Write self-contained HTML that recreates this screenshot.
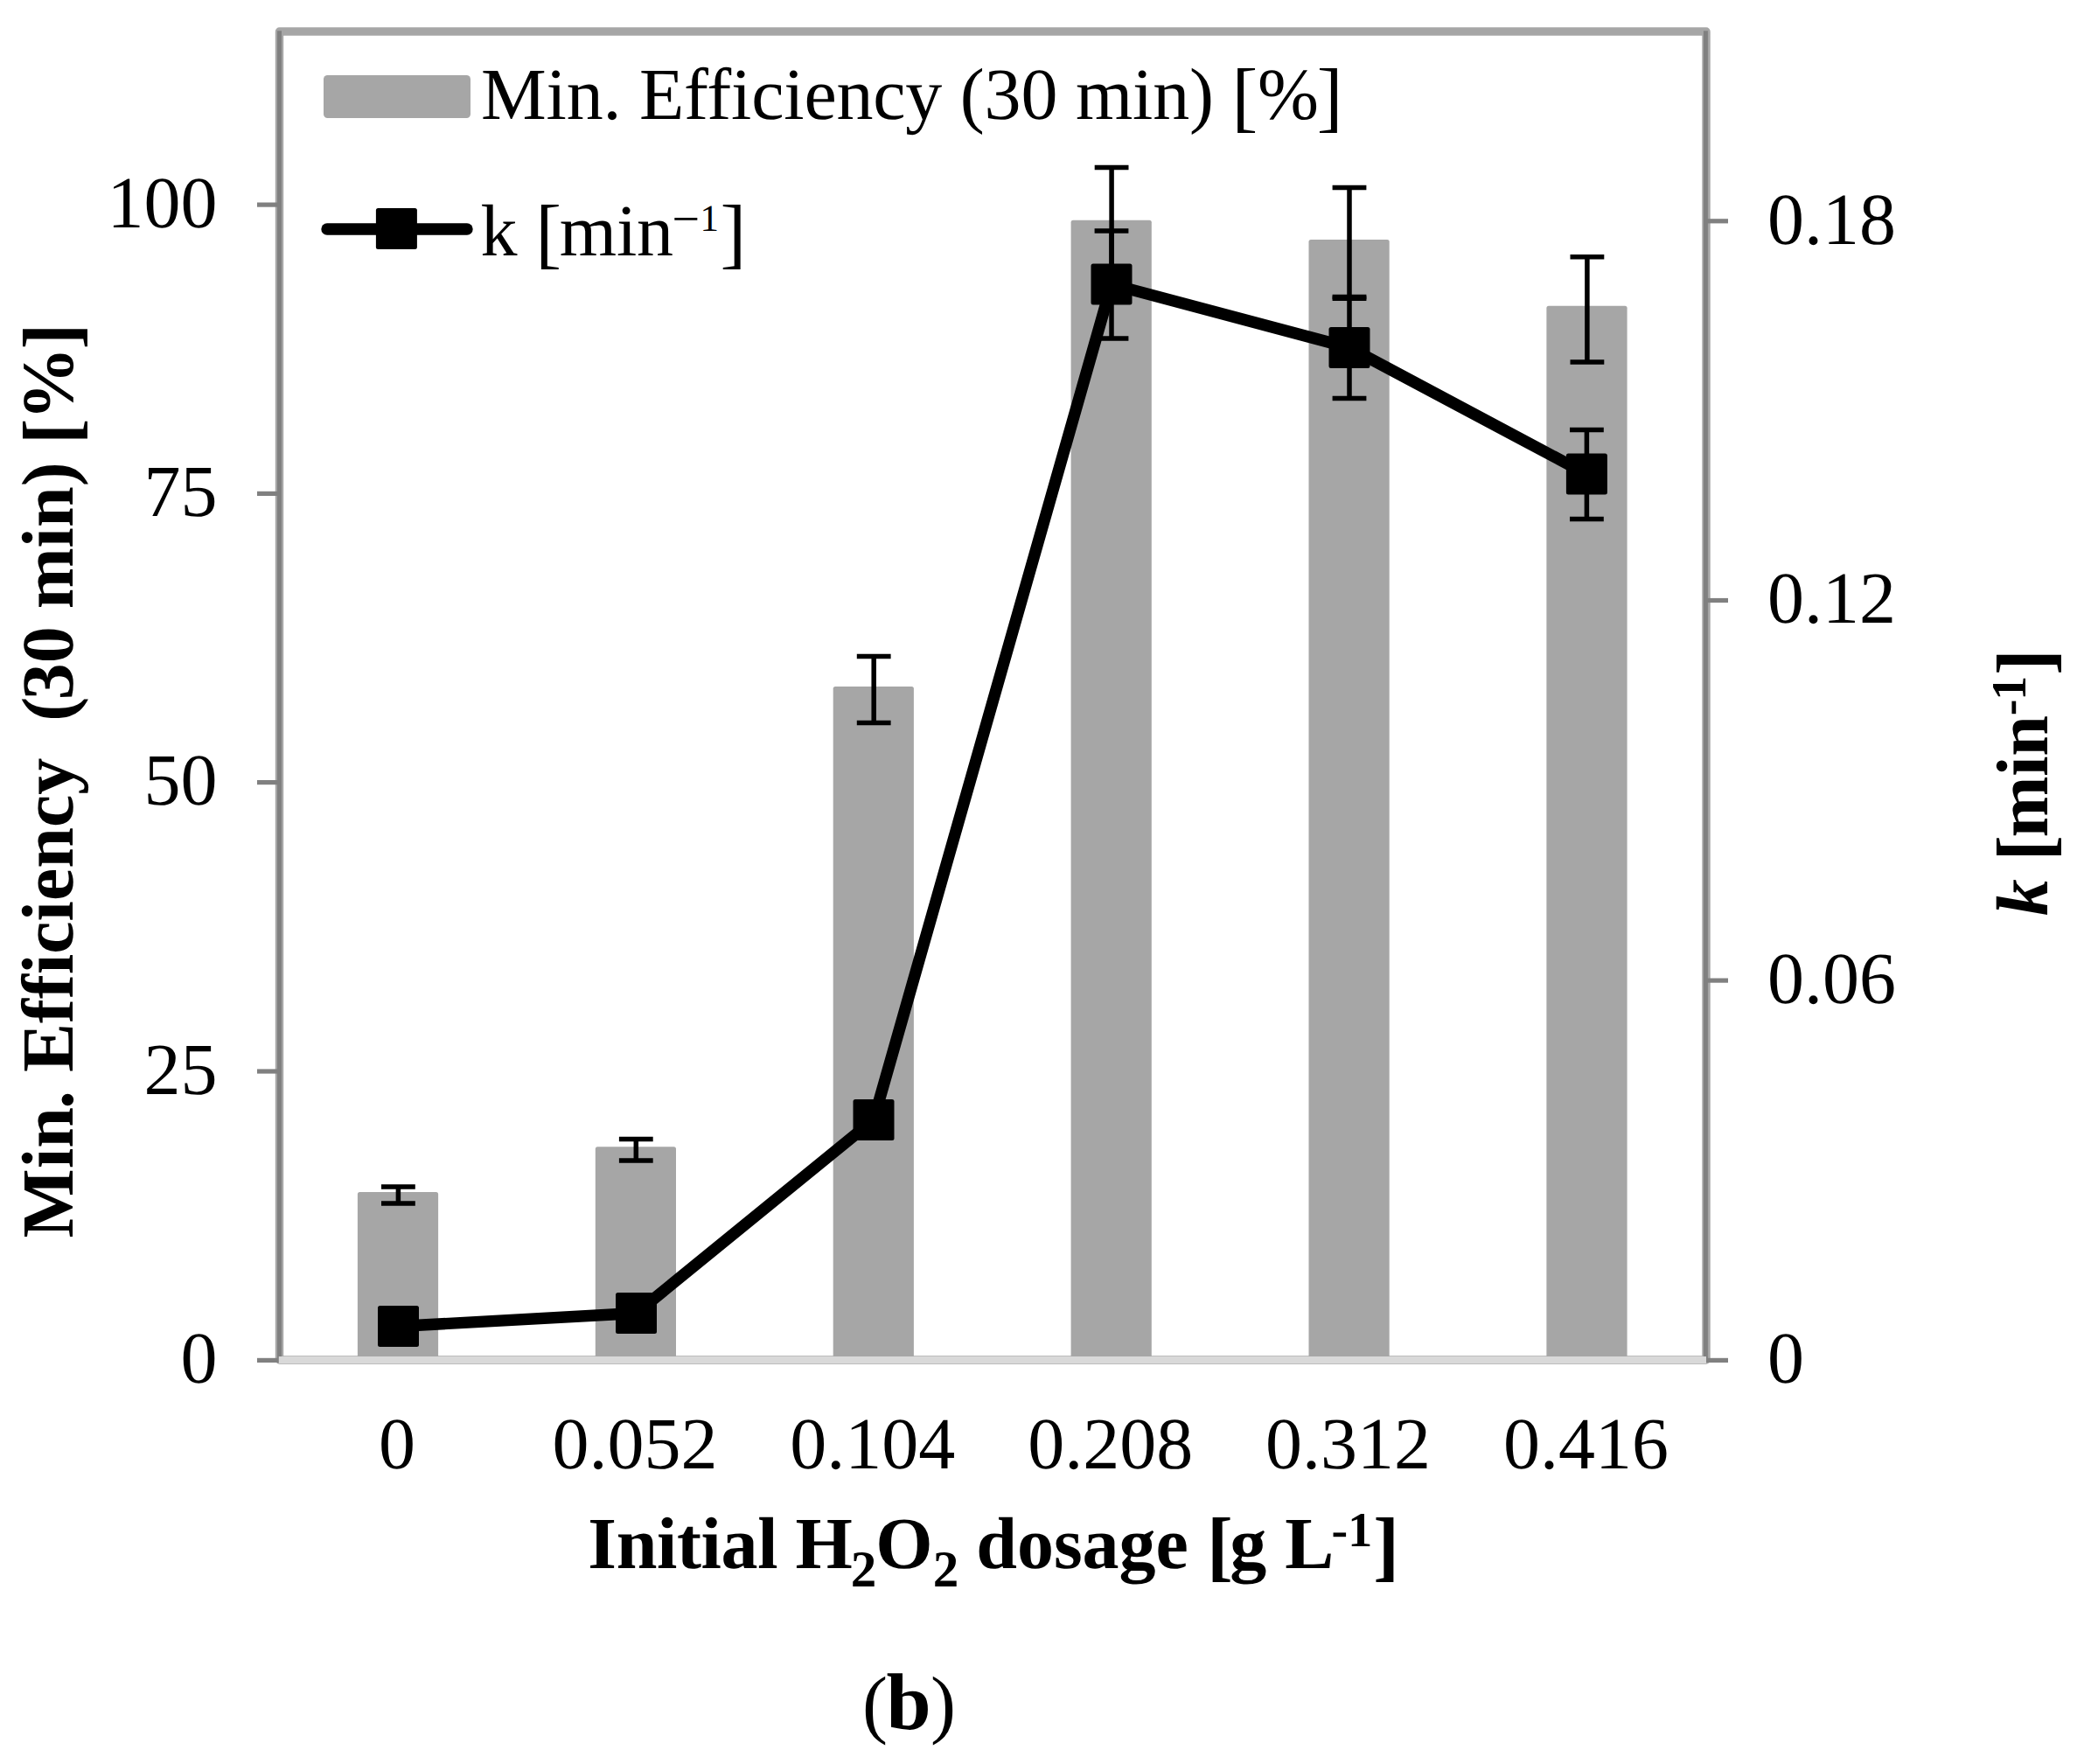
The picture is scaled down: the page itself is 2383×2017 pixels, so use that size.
<!DOCTYPE html>
<html lang="en">
<head>
<meta charset="utf-8">
<title>Min. Efficiency and k vs initial H2O2 dosage (b)</title>
<style>
html,body{margin:0;padding:0;background:#fff;}
body{width:2383px;height:2017px;overflow:hidden;}
svg{display:block;}
</style>
</head>
<body>
<svg width="2383" height="2017" viewBox="0 0 2383 2017" font-family="'Liberation Serif','Times New Roman',Times,serif" font-size="84.0" fill="#000" text-rendering="geometricPrecision">
<rect width="2383" height="2017" fill="#fff"/>
<g fill="#a6a6a6">
<path d="M408.90 1555.0 V1365.50 Q408.90 1363.00 411.40 1363.00 H498.60 Q501.10 1363.00 501.10 1365.50 V1555.0 Z"/>
<path d="M680.80 1555.0 V1313.70 Q680.80 1311.20 683.30 1311.20 H770.50 Q773.00 1311.20 773.00 1313.70 V1555.0 Z"/>
<path d="M952.70 1555.0 V787.50 Q952.70 785.00 955.20 785.00 H1042.40 Q1044.90 785.00 1044.90 787.50 V1555.0 Z"/>
<path d="M1224.60 1555.0 V254.30 Q1224.60 251.80 1227.10 251.80 H1314.30 Q1316.80 251.80 1316.80 254.30 V1555.0 Z"/>
<path d="M1496.50 1555.0 V276.40 Q1496.50 273.90 1499.00 273.90 H1586.20 Q1588.70 273.90 1588.70 276.40 V1555.0 Z"/>
<path d="M1768.40 1555.0 V352.30 Q1768.40 349.80 1770.90 349.80 H1858.10 Q1860.60 349.80 1860.60 352.30 V1555.0 Z"/>
</g>
<rect x="319.5" y="36.0" width="1631.5" height="1519.0" fill="none" stroke="#a6a6a6" stroke-width="9.4" stroke-linejoin="round"/>
<g stroke="#808080" stroke-width="5.0" fill="none">
<line x1="319.5" y1="35.2" x2="319.5" y2="1558.3"/>
<line x1="1950.4" y1="35.2" x2="1950.4" y2="1558.0"/>
</g>
<g stroke="#808080" stroke-width="5.2" fill="none">
<line x1="294" y1="1555.4" x2="319.5" y2="1555.4"/>
<line x1="294" y1="1225.0" x2="319.5" y2="1225.0"/>
<line x1="294" y1="894.6" x2="319.5" y2="894.6"/>
<line x1="294" y1="564.4" x2="319.5" y2="564.4"/>
<line x1="294" y1="234.1" x2="319.5" y2="234.1"/>
<line x1="1950.4" y1="1555.4" x2="1976" y2="1555.4"/>
<line x1="1950.4" y1="1121.1" x2="1976" y2="1121.1"/>
<line x1="1950.4" y1="686.5" x2="1976" y2="686.5"/>
<line x1="1950.4" y1="252.8" x2="1976" y2="252.8"/>
</g>
<line x1="318.8" y1="1555.0" x2="1951.0" y2="1555.0" stroke="#d9d9d9" stroke-width="7.9"/>
<g stroke="#000" stroke-width="5.5" fill="none">
<path d="M455.40 1356.90 V1375.90 M436.00 1356.90 H474.80 M436.00 1375.90 H474.80"/>
<path d="M727.30 1302.50 V1327.00 M707.90 1302.50 H746.70 M707.90 1327.00 H746.70"/>
<path d="M999.20 750.50 V826.50 M979.80 750.50 H1018.60 M979.80 826.50 H1018.60"/>
<path d="M1271.10 191.50 V320.00 M1251.70 191.50 H1290.50 M1251.70 320.00 H1290.50"/>
<path d="M1543.00 214.50 V341.30 M1523.60 214.50 H1562.40 M1523.60 341.30 H1562.40"/>
<path d="M1814.90 293.80 V414.05 M1795.50 293.80 H1834.30 M1795.50 414.05 H1834.30"/>
</g>
<polyline points="455.5,1516.5 727.5,1501.5 999.0,1280.4 1271.0,325.1 1543.0,397.5 1814.4,542.1" fill="none" stroke="#000" stroke-width="13.4" stroke-linejoin="round" stroke-linecap="round"/>
<g stroke="#000" stroke-width="5.5" fill="none">
<path d="M1271.00 264.00 V387.05 M1251.60 264.00 H1290.40 M1251.60 387.05 H1290.40"/>
<path d="M1543.00 339.40 V455.60 M1523.60 339.40 H1562.40 M1523.60 455.60 H1562.40"/>
<path d="M1814.40 491.50 V593.40 M1795.00 491.50 H1833.80 M1795.00 593.40 H1833.80"/>
</g>
<rect x="432.00" y="1493.00" width="47.0" height="47.0" rx="2.5"/>
<rect x="704.00" y="1478.00" width="47.0" height="47.0" rx="2.5"/>
<rect x="975.50" y="1256.90" width="47.0" height="47.0" rx="2.5"/>
<rect x="1247.50" y="301.60" width="47.0" height="47.0" rx="2.5"/>
<rect x="1519.50" y="374.00" width="47.0" height="47.0" rx="2.5"/>
<rect x="1790.90" y="518.60" width="47.0" height="47.0" rx="2.5"/>
<rect x="370" y="86" width="168" height="49" rx="4.5" fill="#a6a6a6"/>
<text id="leg1" x="550.1" y="135.7" letter-spacing="-0.22">Min. Efficiency (30 min) <tspan font-size="89.4" dy="4.4">[</tspan><tspan dy="-4.4">%</tspan><tspan font-size="89.4" dy="4.4" dx="-2">]</tspan></text>
<line x1="374" y1="262" x2="534" y2="262" stroke="#000" stroke-width="13.4" stroke-linecap="round"/>
<rect x="429.90" y="238.00" width="47.0" height="47.0" rx="2.5"/>
<text id="leg2" x="549.6" y="291.6" letter-spacing="-0.2">k <tspan font-size="89.4" dy="4.4">[</tspan><tspan dy="-4.4" dx="-2">min</tspan><tspan x="768.5" y="268.9" font-size="56">−</tspan><tspan x="800.6" y="264" font-size="43">1</tspan><tspan x="823.6" y="296.0" font-size="89.4">]</tspan></text>
<text class="tl" x="248.5" y="1581.2" text-anchor="end">0</text>
<text class="tl" x="248.5" y="1250.8" text-anchor="end">25</text>
<text class="tl" x="248.5" y="920.4" text-anchor="end">50</text>
<text class="tl" x="248.5" y="590.2" text-anchor="end">75</text>
<text class="tl" x="248.5" y="259.9" text-anchor="end">100</text>
<text class="tr" x="2021" y="1581.2">0</text>
<text class="tr" x="2021" y="1146.9">0.06</text>
<text class="tr" x="2021" y="712.3">0.12</text>
<text class="tr" x="2021" y="278.6">0.18</text>
<text class="xl" x="454.0" y="1679" text-anchor="middle">0</text>
<text class="xl" x="725.9" y="1679" text-anchor="middle">0.052</text>
<text class="xl" x="997.8" y="1679" text-anchor="middle">0.104</text>
<text class="xl" x="1269.7" y="1679" text-anchor="middle">0.208</text>
<text class="xl" x="1541.6" y="1679" text-anchor="middle">0.312</text>
<text class="xl" x="1813.5" y="1679" text-anchor="middle">0.416</text>
<text id="xt" x="672.3" y="1792.8" font-weight="bold"><tspan letter-spacing="-0.35">Initial </tspan><tspan x="909.5">H</tspan><tspan font-size="59" dy="21.3" dx="-2">2</tspan><tspan dy="-21.3" dx="-1">O</tspan><tspan font-size="59" dy="21.3">2</tspan><tspan dy="-21.3" dx="-1"> dosage </tspan><tspan font-size="89.4" dy="4.4">[</tspan><tspan dy="-4.4" dx="-3.4">g L</tspan><tspan font-size="56" dy="-25" dx="-2.7">-1</tspan><tspan font-size="89.4" dy="29.4" dx="1">]</tspan></text>
<text id="yl" transform="translate(83.1 1415.4) rotate(-90)" font-weight="bold" xml:space="preserve" style="white-space:pre">Min<tspan dx="-2">. Efficiency  (</tspan><tspan dx="-3.5">30 </tspan><tspan dx="-1">min) </tspan><tspan font-size="89.4" dy="4.4" dx="-1">[</tspan><tspan dy="-4.4" dx="-1.8">%</tspan><tspan font-size="89.4" dy="4.4" dx="-3">]</tspan></text>
<text id="yr" transform="translate(2341 1047.3) rotate(-90)" font-weight="bold" letter-spacing="-0.2"><tspan font-style="italic">k</tspan> <tspan font-size="89.4" dy="4.4">[</tspan><tspan dy="-4.4" dx="-2.5">min</tspan><tspan font-size="56" dy="-25">-</tspan><tspan font-size="56" dx="-1">1</tspan><tspan font-size="89.4" dy="29.4" dx="1">]</tspan></text>
<text id="cap" y="1977.4" font-size="92"><tspan x="985.9" font-size="87">(</tspan><tspan x="1013.5" font-weight="bold">b</tspan><tspan x="1063.9" font-size="87">)</tspan></text>
</svg>
</body>
</html>
